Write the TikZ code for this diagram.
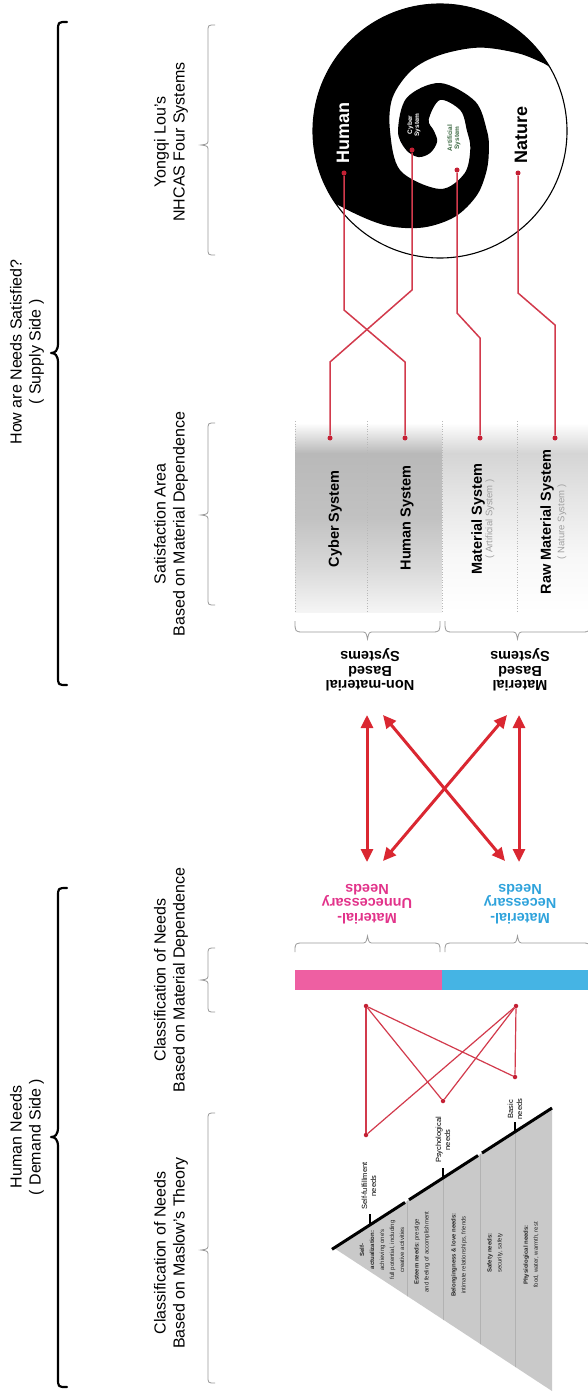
\documentclass[tikz,border=0pt]{standalone}
\usepackage{fontspec}
\setmainfont{Liberation Sans}
\usetikzlibrary{arrows.meta}

\definecolor{arrowred}{HTML}{DA2731}
\definecolor{linered}{HTML}{D23A4C}
\definecolor{dotred}{HTML}{C42034}
\definecolor{needpink}{HTML}{EE5FA2}
\definecolor{needblue}{HTML}{45B4E4}
\definecolor{textpink}{HTML}{E2338A}
\definecolor{textblue}{HTML}{2FA3DC}
\definecolor{pyrgray}{HTML}{C9C9C9}
\definecolor{artgreen}{HTML}{3F6B45}

% soft grey fades behind the four supply systems
\pgfdeclareverticalshading{leftcol}{100bp}{color(0bp)=(gray!8); color(25bp)=(gray!8); color(37bp)=(gray!30); color(50bp)=(gray!48); color(67bp)=(gray!55); color(75bp)=(white); color(100bp)=(white)}
\pgfdeclareverticalshading{rightcol}{100bp}{color(0bp)=(white); color(25bp)=(white); color(40bp)=(gray!6); color(55bp)=(gray!20); color(67bp)=(gray!33); color(75bp)=(white); color(100bp)=(white)}

\begin{document}
\begin{tikzpicture}[x=1pt, y=-1pt,
  hdr/.style={font=\fontsize{16}{19}\selectfont, align=center, rotate=90, inner sep=0},
  coltxt/.style={font=\bfseries\fontsize{14.5}{16}\selectfont, rotate=90, inner sep=0},
  colsub/.style={font=\fontsize{9.5}{11}\selectfont, text=gray!75, rotate=90, inner sep=0},
  fliptxt/.style={font=\bfseries\fontsize{14.5}{14.5}\selectfont, align=center, rotate=180, inner sep=0},
  reddot/.style={circle, fill=dotred, minimum size=5pt, inner sep=0},
  satline/.style={draw=linered, line width=1.5pt, line join=round},
  netline/.style={draw=linered, line width=1.2pt},
  dblarrow/.style={draw=arrowred, line width=3pt, {Triangle[length=13pt,width=12pt]}-{Triangle[length=13pt,width=12pt]}},
  bigbrace/.style={draw=black, line width=2.2pt, line cap=round, line join=round},
  smallbrace/.style={draw=gray!80, line width=0.8pt},
  colsep/.style={draw=gray!55, line width=0.6pt, dotted},
  tinylbl/.style={font=\fontsize{7.5}{9}\selectfont, align=center, rotate=90, inner sep=0},
  lvltxt/.style={font=\fontsize{6}{10}\selectfont, align=center, rotate=90, inner sep=0, text=black!85}
]
\useasboundingbox (0,0) rectangle (587,1396);
\fill[white] (0,0) rectangle (587,1396);

% ---------- outer headers ----------
\node[hdr] (supplyhdr) at (27,352) {How are Needs Satisfied?\\( Supply Side )};
\node[hdr] (demandhdr) at (27,1137) {Human Needs\\( Demand Side )};
\draw[bigbrace] (67,22) .. controls (58,22) .. (58,31) -- (58,343)
  .. controls (58,351) and (55,353) .. (51,353) .. controls (55,353) and (58,355) .. (58,363)
  -- (58,676) .. controls (58,685) .. (67,685);
\draw[bigbrace] (67,888) .. controls (58,888) .. (58,897) -- (58,1127)
  .. controls (58,1135) and (55,1137) .. (51,1137) .. controls (55,1137) and (58,1139) .. (58,1147)
  -- (58,1378) .. controls (58,1387) .. (67,1387);

% ---------- column headers ----------
\node[hdr] (nhcashdr) at (171,142) {Yongqi Lou's\\NHCAS Four Systems};
\node[hdr] (areahdr) at (171,524) {Satisfaction Area\\Based on Material Dependence};
\node[hdr] (mathdr) at (171,980) {Classification of Needs\\Based on Material Dependence};
\node[hdr] (maslowhdr) at (171,1253) {Classification of Needs\\Based on Maslow's Theory};
\draw[smallbrace] (215,25) .. controls (208,25) .. (208,32) -- (208,139) .. controls (208,144) .. (201,145) .. controls (208,146) .. (208,151) -- (208,248) .. controls (208,255) .. (215,255);
\draw[smallbrace] (215,423) .. controls (208,423) .. (208,430) -- (208,509) .. controls (208,514) .. (201,515) .. controls (208,516) .. (208,521) -- (208,598) .. controls (208,605) .. (215,605);
\draw[smallbrace] (215,948) .. controls (208,948) .. (208,955) -- (208,974) .. controls (208,979) .. (201,980) .. controls (208,981) .. (208,986) -- (208,1005) .. controls (208,1012) .. (215,1012);
\draw[smallbrace] (215,1113) .. controls (208,1113) .. (208,1120) -- (208,1244) .. controls (208,1249) .. (201,1250) .. controls (208,1251) .. (208,1256) -- (208,1376) .. controls (208,1383) .. (215,1383);

% ---------- NHCAS double spiral ----------
\begin{scope}[shift={(440,131)}, y=1pt]
  \begin{scope}
    \clip (0,0) circle (127);
    \fill[black] plot[smooth cycle, tension=0.55] coordinates {
      (40:142) (80:140) (120:140) (160:140) (190:138) (207:134)
      (220:122) (240:109) (260:98) (280:87) (300:74) (320:61) (340:52) (360:47)
      (400:46) (450:48) (495:47) (540:42) (568:39) (590:34) (606:24) (615:11)
      (540:6) (495:16) (450:31) (405:29) (360:27) (330:35) (300:49) (270:58)
      (225:56) (180:50) (145:58) (115:67) (90:76) (65:92) (45:110) (33:124) (28:131)};
  \end{scope}
  \draw[line width=1.1pt] (0,0) circle (127);
\end{scope}
\node[font=\bfseries\fontsize{18}{18}\selectfont, text=white, rotate=90, inner sep=0] (humanlbl) at (343,133) {Human};
\node[font=\bfseries\fontsize{18}{18}\selectfont, rotate=90, inner sep=0] (naturelbl) at (521,135) {Nature};
\node[font=\bfseries\fontsize{6.5}{7}\selectfont, text=white, align=center, rotate=90, inner sep=0] (cyberlbl) at (414,125) {Cyber\\System};
\node[font=\bfseries\fontsize{6.5}{7}\selectfont, text=artgreen, align=center, rotate=90, inner sep=0] (artlbl) at (454,138) {Artificial\\System};

% ---------- satisfaction area ----------
\shade[shading=leftcol] (295,423) rectangle (442,612);
\shade[shading=rightcol] (442,423) rectangle (592,612);
\draw[colsep] (295,421) -- (295,612);
\draw[colsep] (367,421) -- (367,612);
\draw[colsep] (442,421) -- (442,612);
\draw[colsep] (517,421) -- (517,612);
\node[coltxt] (cybtxt) at (335,519) {Cyber System};
\node[coltxt] (humtxt) at (407,518) {Human System};
\node[coltxt] (mattxt) at (478,519) {Material System};
\node[colsub] (matsub) at (490,519) {( Artificial System )};
\node[coltxt] (rawtxt) at (547,522) {Raw Material System};
\node[colsub] (rawsub) at (562,522) {( Nature System )};

% links from the four systems to the supply columns
\node[reddot] (humdot) at (344,173) {};
\node[reddot] (cybdot) at (412,150) {};
\node[reddot] (artdot) at (457,170) {};
\node[reddot] (natdot) at (518,173) {};
\node[reddot] (cybsys) at (330,438) {};
\node[reddot] (humsys) at (405,438) {};
\node[reddot] (matsys) at (480,438) {};
\node[reddot] (rawsys) at (555,438) {};
\draw[satline] (cybdot) -- (412,290) -- (330,362) -- (cybsys);
\draw[satline] (humdot) -- (344,310) -- (405,362) -- (humsys);
\draw[satline] (artdot) -- (457,313) -- (480,338) -- (matsys);
\draw[satline] (natdot) -- (518,293) -- (555,325) -- (rawsys);

% braces under the columns
\draw[smallbrace] (295,621) .. controls (295,632) .. (304,632) -- (361,632) .. controls (366,632) .. (367.5,639) .. controls (369,632) .. (374,632) -- (431,632) .. controls (440,632) .. (440,621);
\draw[smallbrace] (445,621) .. controls (445,632) .. (454,632) -- (511,632) .. controls (516,632) .. (517.5,639) .. controls (519,632) .. (524,632) -- (581,632) .. controls (590,632) .. (590,621);
\node[fliptxt] (nonmat) at (370,670) {Non-material\\Based\\Systems};
\node[fliptxt] (matbased) at (520,670) {Material\\Based\\Systems};

% ---------- needs <-> systems ----------
\coordinate (a1s) at (367,715); \coordinate (a1e) at (367,862);
\coordinate (a2s) at (519,715); \coordinate (a2e) at (519,862);
\coordinate (a3s) at (383,715); \coordinate (a3e) at (505,861);
\coordinate (a4s) at (507,715); \coordinate (a4e) at (383,861);
\draw[dblarrow] (a1s) -- (a1e);
\draw[dblarrow] (a2s) -- (a2e);
\draw[dblarrow] (a3s) -- (a3e);
\draw[dblarrow] (a4s) -- (a4e);

\node[fliptxt, text=textpink] (unneeds) at (367,904) {Material-\\Unnecessary\\Needs};
\node[fliptxt, text=textblue] (neneeds) at (520,904) {Material-\\Necessary\\Needs};
\draw[smallbrace] (295,952) .. controls (295,943) .. (304,943) -- (361,943) .. controls (366,943) .. (367.5,936) .. controls (369,943) .. (374,943) -- (431,943) .. controls (440,943) .. (440,952);
\draw[smallbrace] (445,952) .. controls (445,943) .. (454,943) -- (511,943) .. controls (516,943) .. (517.5,936) .. controls (519,943) .. (524,943) -- (581,943) .. controls (590,943) .. (590,952);
\fill[needpink] (295,970) rectangle (442,990);
\fill[needblue] (442,970) rectangle (592,990);

% ---------- Maslow levels -> material dependence ----------
\node[reddot, minimum size=4.5pt] (na) at (366,1006) {};
\node[reddot, minimum size=4.5pt] (nb) at (516,1006) {};
\node[reddot, minimum size=4.5pt] (nc) at (515,1077) {};
\node[reddot, minimum size=4.5pt] (nd) at (443,1101) {};
\node[reddot, minimum size=4.5pt] (ne) at (366,1135) {};
\draw[netline] (na) -- (ne);
\draw[netline] (na) -- (nc);
\draw[netline] (na) -- (nd);
\draw[netline] (nb) -- (nc);
\draw[netline] (nb) -- (nd);
\draw[netline] (nb) -- (ne);

% ---------- Maslow pyramid ----------
\coordinate (apex) at (334,1248);
\coordinate (ptop) at (552,1108);
\coordinate (pbot) at (552,1391);
\fill[pyrgray] (apex) -- (ptop) -- (pbot) -- cycle;
\begin{scope}
  \clip (apex) -- (ptop) -- (pbot) -- cycle;
  \draw[gray!60, line width=0.5pt] (407,1100) -- (407,1400);
  \draw[gray!60, line width=0.5pt] (443,1100) -- (443,1400);
  \draw[gray!60, line width=0.5pt] (480,1100) -- (480,1400);
  \draw[gray!60, line width=0.5pt] (515,1100) -- (515,1400);
\end{scope}
\draw[line width=3pt] (332,1249.3) -- (405,1202.4);
\draw[line width=3pt] (409,1199.8) -- (478,1155.5);
\draw[line width=3pt] (482,1153.0) -- (552,1108);
\draw[line width=1.8pt] (370,1225) -- (370,1214);
\draw[line width=1.8pt] (443,1178) -- (443,1168);
\draw[line width=1.8pt] (515,1132) -- (515,1121.5);
\node[tinylbl] (sflbl) at (369,1186) {Self-fulfillment\\needs};
\node[tinylbl] (pslbl) at (443,1140) {Psychological\\needs};
\node[tinylbl] (bslbl) at (515,1109) {Basic\\needs};

\node[lvltxt] (lvl1) at (382,1250) {\textbf{Self-}\\\textbf{actualization:}\\achieving one's\\full potential, including\\creative activities};
\node[lvltxt] (lvl2) at (422,1252) {\textbf{Esteem needs:} prestige\\and feeling of accomplishment};
\node[lvltxt] (lvl3) at (459,1255) {\textbf{Belongingness \& love needs:}\\intimate relationships, friends};
\node[lvltxt] (lvl4) at (495,1253) {\textbf{Safety needs:}\\security, safety};
\node[lvltxt] (lvl5) at (531,1255) {\textbf{Physiological needs:}\\food, water, warmth, rest};
\end{tikzpicture}
\end{document}
